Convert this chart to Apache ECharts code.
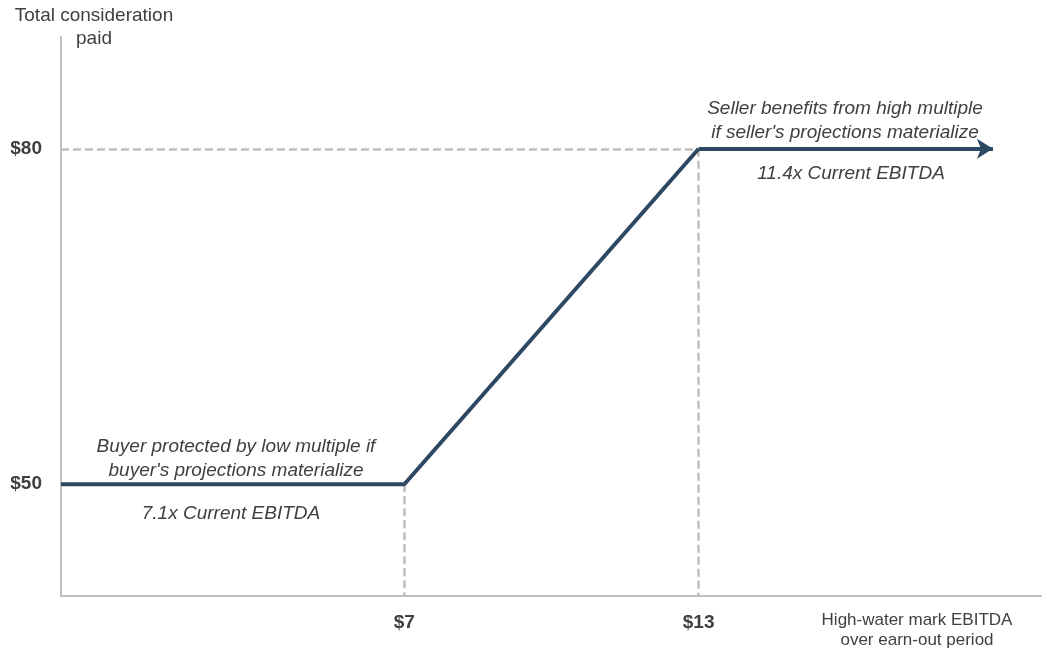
<!DOCTYPE html>
<html>
<head>
<meta charset="utf-8">
<script src="https://cdn.jsdelivr.net/npm/echarts@6/dist/echarts.min.js"></script>
<style>
html,body{margin:0;padding:0;background:#fff;}
#chart{width:1042px;height:650px;}
</style>
</head>
<body>
<div id="chart"></div>
<script>
// Payoff curve: high-water mark EBITDA vs total consideration paid
const ebitda = [0, 7, 13, 19];
const consideration = [50, 50, 80, 80];
const xTicks = [7, 13];
const yTicks = [50, 80];
const xRange = [0, 20];
const yRange = [40, 90];
const yAxisTitle = 'Total consideration\npaid';
const xAxisTitle = 'High-water mark EBITDA\nover earn-out period';
const buyerNote = "Buyer protected by low multiple if\nbuyer's projections materialize";
const buyerMultiple = '7.1x Current EBITDA';
const sellerNote = "Seller benefits from high multiple\nif seller's projections materialize";
const sellerMultiple = '11.4x Current EBITDA';

const lineColor = '#2C4862';
const guideColor = '#BFBFBF';
const textColor = '#404040';
const fontFamily = 'Liberation Sans, Arial, sans-serif';

const chart = echarts.init(document.getElementById('chart'));
const pts = ebitda.map((x, i) => [x, consideration[i]]);
const last = pts.length - 1;

const option = {
  animation: false,
  grid: {left: 61, right: 0, top: 37, bottom: 54, containLabel: false},
  xAxis: {
    type: 'value', min: xRange[0], max: xRange[1],
    axisLine: {show: true, lineStyle: {color: guideColor, width: 2}},
    axisTick: {show: false},
    splitLine: {show: false},
    axisLabel: {
      margin: 17, color: textColor, fontWeight: 'bold', fontSize: 19, fontFamily,
      customValues: xTicks, formatter: v => '$' + v
    }
  },
  yAxis: {
    type: 'value', min: yRange[0], max: yRange[1],
    axisLine: {show: true, lineStyle: {color: guideColor, width: 2}},
    axisTick: {show: false},
    splitLine: {show: false},
    axisLabel: {
      margin: 19, color: textColor, fontWeight: 'bold', fontSize: 19, fontFamily,
      customValues: yTicks, formatter: v => '$' + v
    }
  },
  series: [
    {
      type: 'line',
      data: pts.slice(0, last),
      symbol: 'none',
      lineStyle: {color: lineColor, width: 4},
      z: 5,
      markLine: {
        silent: true,
        symbol: 'none',
        label: {show: false},
        lineStyle: {color: guideColor, width: 2.5, type: [8, 4]},
        data: [
          [{coord: [xRange[0], consideration[2]]}, {coord: [ebitda[2], consideration[2]]}],
          [{coord: [ebitda[1], consideration[1]]}, {coord: [ebitda[1], yRange[0]]}],
          [{coord: [ebitda[2], consideration[2]]}, {coord: [ebitda[2], yRange[0]]}]
        ]
      }
    },
    {
      type: 'line',
      data: [],
      z: 6,
      markLine: {
        silent: true,
        symbol: ['none', 'arrow'],
        symbolSize: [15, 16],
        label: {show: false},
        lineStyle: {color: lineColor, width: 4, type: 'solid'},
        data: [[{coord: pts[last - 1]}, {coord: pts[last]}]]
      }
    }
  ],
  graphic: [
    {type: 'text', x: 94, y: 4, style: {text: yAxisTitle, fill: textColor, font: '19px ' + fontFamily, textAlign: 'center', lineHeight: 23}},
    {type: 'text', x: 917, y: 610, style: {text: xAxisTitle, fill: textColor, font: '17px ' + fontFamily, textAlign: 'center', lineHeight: 20}},
    {type: 'text', x: 236, y: 435, style: {text: buyerNote, fill: textColor, font: 'italic 19px ' + fontFamily, textAlign: 'center', lineHeight: 24}},
    {type: 'text', x: 231, y: 504, style: {text: buyerMultiple, fill: textColor, font: 'italic 19px ' + fontFamily, textAlign: 'center'}},
    {type: 'text', x: 845, y: 97, style: {text: sellerNote, fill: textColor, font: 'italic 19px ' + fontFamily, textAlign: 'center', lineHeight: 24}},
    {type: 'text', x: 851, y: 164, style: {text: sellerMultiple, fill: textColor, font: 'italic 19px ' + fontFamily, textAlign: 'center'}}
  ]
};
chart.setOption(option);
</script>
</body>
</html>
